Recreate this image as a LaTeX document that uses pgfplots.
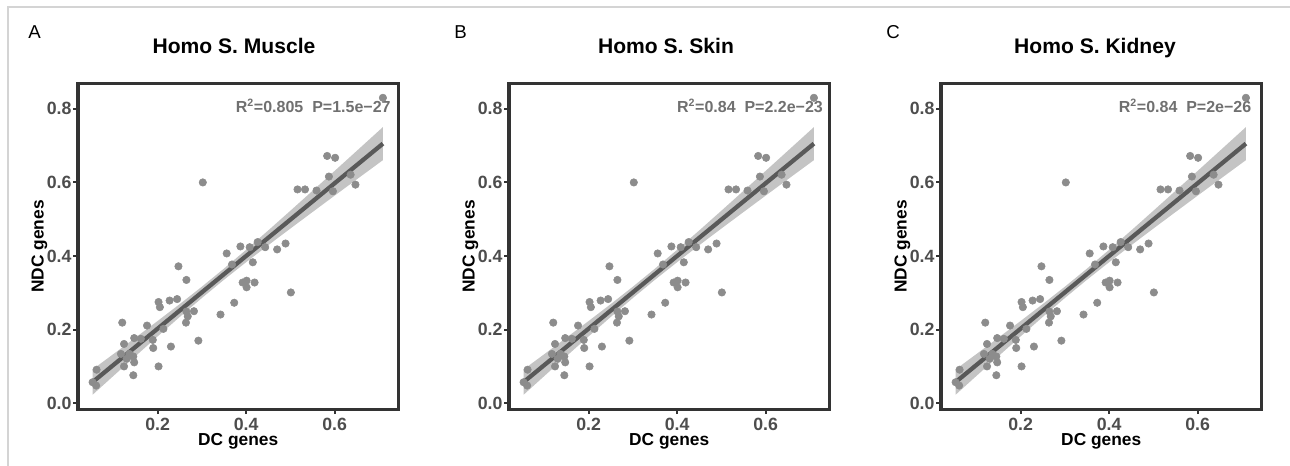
\documentclass[border=0pt]{standalone}
\usepackage{pgfplots}
\pgfplotsset{compat=1.18}
\usepackage{pgfplotstable}
\usepackage{fontspec}
\setmainfont{Liberation Sans}

\definecolor{ptgray}{HTML}{8C8C8C}
\definecolor{bandgray}{HTML}{B0B0B0}
\definecolor{linegray}{HTML}{595959}
\definecolor{framegray}{HTML}{333333}
\definecolor{tickgray}{HTML}{4D4D4D}
\definecolor{anngray}{HTML}{707070}
\definecolor{bordergray}{HTML}{D4D4D4}

\pgfplotstableread{
x y
0.709 0.830
0.583 0.672
0.601 0.667
0.587 0.616
0.596 0.576
0.559 0.578
0.516 0.581
0.533 0.581
0.636 0.621
0.647 0.594
0.302 0.600
0.387 0.426
0.408 0.424
0.426 0.438
0.443 0.424
0.470 0.418
0.489 0.434
0.356 0.407
0.368 0.377
0.415 0.383
0.392 0.328
0.401 0.333
0.419 0.328
0.401 0.315
0.501 0.301
0.373 0.273
0.342 0.241
0.247 0.372
0.265 0.335
0.202 0.275
0.205 0.261
0.227 0.279
0.244 0.283
0.265 0.249
0.282 0.250
0.268 0.236
0.264 0.219
0.120 0.219
0.176 0.211
0.213 0.202
0.292 0.170
0.230 0.154
0.190 0.150
0.189 0.172
0.162 0.175
0.147 0.177
0.124 0.161
0.117 0.134
0.145 0.127
0.147 0.111
0.124 0.100
0.145 0.076
0.202 0.100
0.062 0.091
0.053 0.057
0.061 0.048
0.136 0.134
0.130 0.121
}\pts

\pgfplotstableread{
x y
0.053 0.0574
0.709 0.7055
}\fit

\tikzset{
  ann/.style={anchor=base east, inner sep=0pt, font=\bfseries\fontsize{12}{12}\selectfont, text=anngray},
  letter/.style={anchor=base west, inner sep=0pt, font=\fontsize{14}{14}\selectfont},
  ptitle/.style={anchor=base, inner sep=0pt, font=\bfseries\fontsize{15.8}{15.8}\selectfont},
}

\pgfplotsset{
  panel/.style={
    scale only axis,
    width=240.3pt, height=244.5pt,
    anchor=south west,
    xmin=0.020, xmax=0.744,
    ymin=-0.017, ymax=0.869,
    xtick={0.2,0.4,0.6},
    ytick={0,0.2,0.4,0.6,0.8},
    /pgf/number format/assume math mode=true,
    /pgf/number format/.cd, fixed, fixed zerofill, precision=1, /pgfplots/.cd,
    tick align=outside,
    major tick length=3.5pt,
    tick style={line width=1.5pt, framegray},
    axis line style={line width=2.6pt, framegray},
    xtick pos=bottom, ytick pos=left,
    ticklabel style={font=\bfseries\fontsize{13.3}{13.3}\selectfont, text=tickgray},
    xticklabel style={inner sep=2.6pt, text depth=0pt},
    yticklabel style={inner sep=1.2pt},
    label style={font=\bfseries\fontsize{13}{13}\selectfont, text=black},
    xlabel={DC genes}, ylabel={NDC genes},
    xlabel style={at={(axis description cs:0.5,-0.1095)}, anchor=base, inner sep=0pt, text height=9.3pt},
    ylabel style={at={(axis description cs:-0.1076,0.5)}, anchor=base, inner sep=0pt},
    clip=true,
  },
  pts/.style={only marks, mark=*, mark size=2.8pt, color=ptgray, mark options={draw=none, fill=ptgray}},
  band/.style={fill=bandgray, draw=none, fill opacity=0.75},
  fitline/.style={linegray, line width=3.2pt},
}

\newcommand{\bandcoords}{
(0.053,0.0918) (0.1,0.1335) (0.15,0.1783) (0.2,0.2235) (0.25,0.2695) (0.3,0.3168) (0.35,0.3660) (0.4,0.4171) (0.45,0.4697) (0.5,0.5232) (0.55,0.5772) (0.6,0.6314) (0.65,0.6859) (0.709,0.7504)
(0.709,0.6606) (0.65,0.6085) (0.6,0.5642) (0.55,0.5196) (0.5,0.4748) (0.45,0.4295) (0.4,0.3833) (0.35,0.3356) (0.3,0.2860) (0.25,0.2345) (0.2,0.1817) (0.15,0.1281) (0.1,0.0741) (0.053,0.0230)
}

\begin{document}
\begin{tikzpicture}
\path[use as bounding box] (0,0) rectangle (967.5pt,349.5pt);

\begin{scope}[x=0.75pt,y=0.75pt]
\draw[bordergray, line width=1.1pt] (8,0) -- (8,459) -- (1290,459);
\node[letter] at (28,427.7) {A};
\node[letter] at (454,427.7) {B};
\node[letter] at (886,427.7) {C};
\node[ptitle] at (234,412.7) {Homo S. Muscle};
\node[ptitle] at (666,412.7) {Homo S. Skin};
\node[ptitle] at (1095,412.7) {Homo S. Kidney};
\end{scope}

% Panel A
\begin{axis}[panel, at={(58.5pt,42.4pt)}]
\addplot[pts] table {\pts};
\addplot[band] coordinates {\bandcoords} -- cycle;
\addplot[fitline] table {\fit};
\node[ann] at (axis cs:0.7269,0.791) {R\textsuperscript{2}=0.805\ \ P=1.5e−27};
\end{axis}

% Panel B
\begin{axis}[panel, at={(381.75pt,42.4pt)}]
\addplot[pts] table {\pts};
\addplot[band] coordinates {\bandcoords} -- cycle;
\addplot[fitline] table {\fit};
\node[ann] at (axis cs:0.7298,0.791) {R\textsuperscript{2}=0.84\ \ P=2.2e−23};
\end{axis}

% Panel C
\begin{axis}[panel, at={(705.75pt,42.4pt)}]
\addplot[pts] table {\pts};
\addplot[band] coordinates {\bandcoords} -- cycle;
\addplot[fitline] table {\fit};
\node[ann] at (axis cs:0.7217,0.791) {R\textsuperscript{2}=0.84\ \ P=2e−26};
\end{axis}

\end{tikzpicture}
\end{document}
